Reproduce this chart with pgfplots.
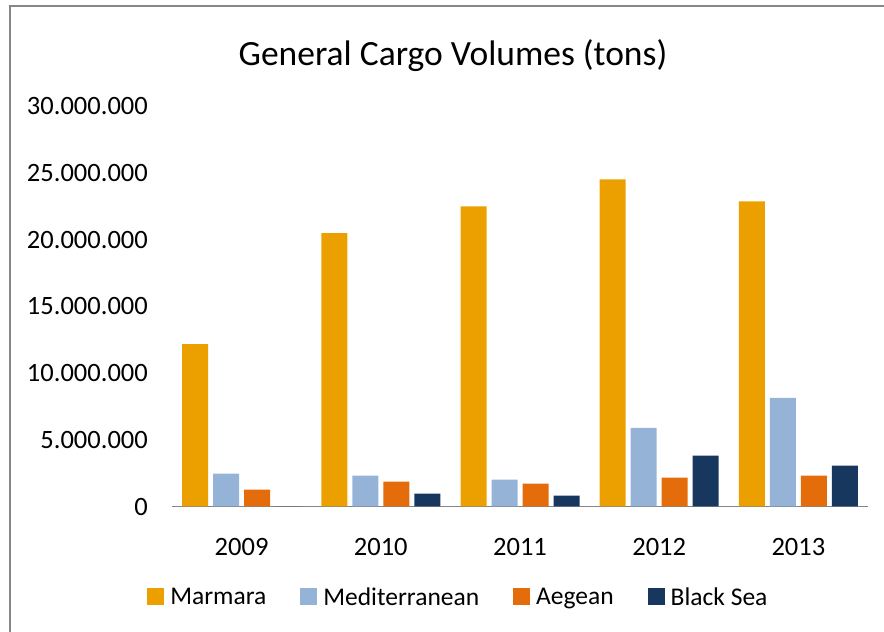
\documentclass[border=0pt]{standalone}
\usepackage{fontspec}
\setmainfont{Carlito}
\usepackage{pgfplots}
\pgfplotsset{compat=1.18}
\definecolor{marmara}{HTML}{EBA000}
\definecolor{medit}{HTML}{95B3D7}
\definecolor{aegean}{HTML}{E46C0A}
\definecolor{blacksea}{HTML}{17375E}
\definecolor{framegray}{HTML}{868686}
\begin{document}
\begin{tikzpicture}
\path[use as bounding box] (0,0) rectangle (884bp,632bp);
\draw[framegray, line width=1.5bp] (10bp,0) -- (10bp,626bp) -- (884bp,626bp);
\begin{axis}[
  at={(172bp,125.5bp)}, anchor=south west,
  scale only axis, width=696bp, height=400bp,
  ybar=5bp, bar width=26bp,
  xmin=-0.5, xmax=4.5, ymin=0, ymax=30000000,
  xtick=data, xticklabels={2009,2010,2011,2012,2013},
  ytick={0,5000000,10000000,15000000,20000000,25000000,30000000},
  scaled y ticks=false,
  axis lines*=left,
  x axis line style={draw=framegray, line width=1.7bp},
  y axis line style={draw=none},
  tick style={draw=none},
  /pgf/number format/assume math mode=true,
  yticklabel style={/pgf/number format/fixed, /pgf/number format/1000 sep={.},
    font=\fontsize{26.5bp}{31bp}\selectfont, anchor=east, inner sep=0pt, xshift=-24bp},
  xticklabel style={font=\fontsize{26.5bp}{31bp}\selectfont, anchor=base, inner sep=0pt, yshift=-44.5bp},
  title={General Cargo Volumes (tons)},
  title style={at={(0.4037,1.087)}, anchor=base, inner sep=0pt, font=\fontsize{35.5bp}{42bp}\selectfont},
  legend columns=4,
  legend image code/.code={\fill[#1] (0bp,-8.5bp) rectangle (17bp,8.5bp);},
  legend style={at={(0.41,-0.226)}, anchor=center, draw=none, fill=none,
    font=\fontsize{25.5bp}{30bp}\selectfont, nodes={inner sep=0pt}, column sep=6bp,
    /tikz/every even column/.append style={column sep=34bp}},
]
\addplot[fill=marmara, draw=none] coordinates {(0,12180000) (1,20500000) (2,22500000) (3,24530000) (4,22880000)};
\addplot[fill=medit, draw=none] coordinates {(0,2470000) (1,2320000) (2,2020000) (3,5890000) (4,8140000)};
\addplot[fill=aegean, draw=none] coordinates {(0,1270000) (1,1870000) (2,1720000) (3,2170000) (4,2320000)};
\addplot[fill=blacksea, draw=none] coordinates {(0,0) (1,970000) (2,820000) (3,3820000) (4,3070000)};
\legend{Marmara, Mediterranean, Aegean, Black Sea}
\end{axis}
\end{tikzpicture}
\end{document}
